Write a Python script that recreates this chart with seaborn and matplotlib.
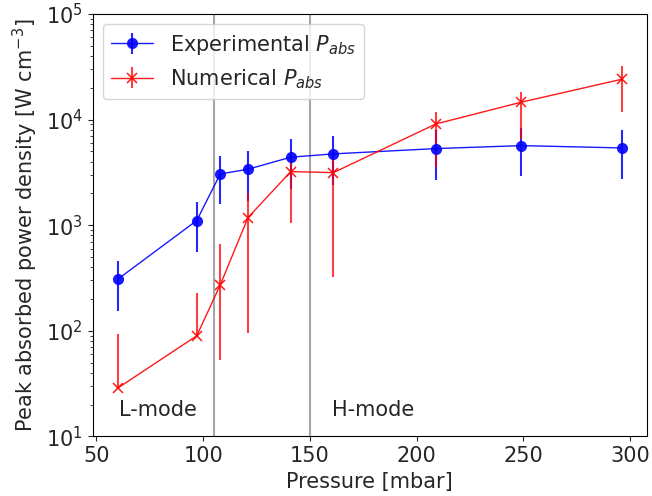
import numpy as np
import pandas as pd
import seaborn as sns
import matplotlib
matplotlib.use("Agg")
import matplotlib.pyplot as plt
from matplotlib.container import ErrorbarContainer

# ---- data ----
pressure = [60, 97, 108, 121, 141, 161, 209, 249, 296]

exp_p = [308, 1107, 3055, 3385, 4400, 4730, 5310, 5665, 5385]
exp_err = [154, 550, 1480, 1690, 2200, 2330, 2650, 2730, 2650]

num_p = [28.7, 89.8, 272, 1180, 3215, 3145, 9080, 14590, 24040]
num_err_low = [0, 0, 219, 1084, 2170, 2823, 5500, 8000, 12240]
num_err_high = [64, 138, 393, 830, 1300, 1300, 2640, 3780, 8320]

mode_bounds = [105, 150]
mode_labels = ["L-mode", "H-mode"]
mode_label_x = [60.5, 160.5]
mode_label_y = 17.8

df = pd.DataFrame({
    "pressure": pressure * 2,
    "P": exp_p + num_p,
    "series": ["Experimental"] * len(pressure) + ["Numerical"] * len(pressure),
})

FS = 15
sns.set_style("ticks")
plt.rcParams["font.family"] = ["DejaVu Sans"]
plt.rcParams["font.size"] = FS

fig = plt.figure(figsize=(6.52, 4.96), dpi=100)
ax = fig.add_axes([0.142, 0.120, 0.850, 0.852])

blue = "#0000ff"
red = "#ff0000"

for b in mode_bounds:
    ax.axvline(b, color="gray", lw=1.5, alpha=0.7, zorder=1)

sns.lineplot(data=df[df.series == "Experimental"], x="pressure", y="P", ax=ax,
             color=blue, marker="o", markersize=8, markeredgewidth=0,
             markerfacecolor=blue, lw=1.0, alpha=0.9, legend=False, zorder=3)
l_exp = ax.lines[-1]
sns.lineplot(data=df[df.series == "Numerical"], x="pressure", y="P", ax=ax,
             color=red, marker="x", markersize=6.5, markeredgewidth=1.1,
             markeredgecolor=red, lw=1.0, alpha=0.9, legend=False, zorder=3)
l_num = ax.lines[-1]

e1 = ax.errorbar(pressure, exp_p, yerr=exp_err, fmt="none", ecolor=blue,
                 elinewidth=1.5, alpha=0.85, capsize=0, zorder=2)
e2 = ax.errorbar(pressure, num_p, yerr=[num_err_low, num_err_high], fmt="none",
                 ecolor=red, elinewidth=1.5, alpha=0.75, capsize=0, zorder=2)

ax.set_yscale("log")
ax.set_ylim(10, 1e5)
ax.set_xlim(48.2, 307.8)
ax.set_xticks([50, 100, 150, 200, 250, 300])

for lab, xx in zip(mode_labels, mode_label_x):
    ax.text(xx, mode_label_y, lab, fontsize=FS, va="center", ha="left")

ax.set_xlabel("Pressure [mbar]", fontsize=FS)
ax.set_ylabel(r"Peak absorbed power density [W cm$^{-3}$]", fontsize=FS)
ax.tick_params(labelsize=FS)

c1 = ErrorbarContainer((l_exp, (), tuple(e1.lines[2])), has_xerr=False, has_yerr=True,
                       label=r"Experimental $P_{abs}$")
c2 = ErrorbarContainer((l_num, (), tuple(e2.lines[2])), has_xerr=False, has_yerr=True,
                       label=r"Numerical $P_{abs}$")
ax.legend(handles=[c1, c2], loc="upper left", fontsize=FS)

for s in ax.spines.values():
    s.set_visible(True)
    s.set_color("black")

fig.savefig("out.png", dpi=100)
